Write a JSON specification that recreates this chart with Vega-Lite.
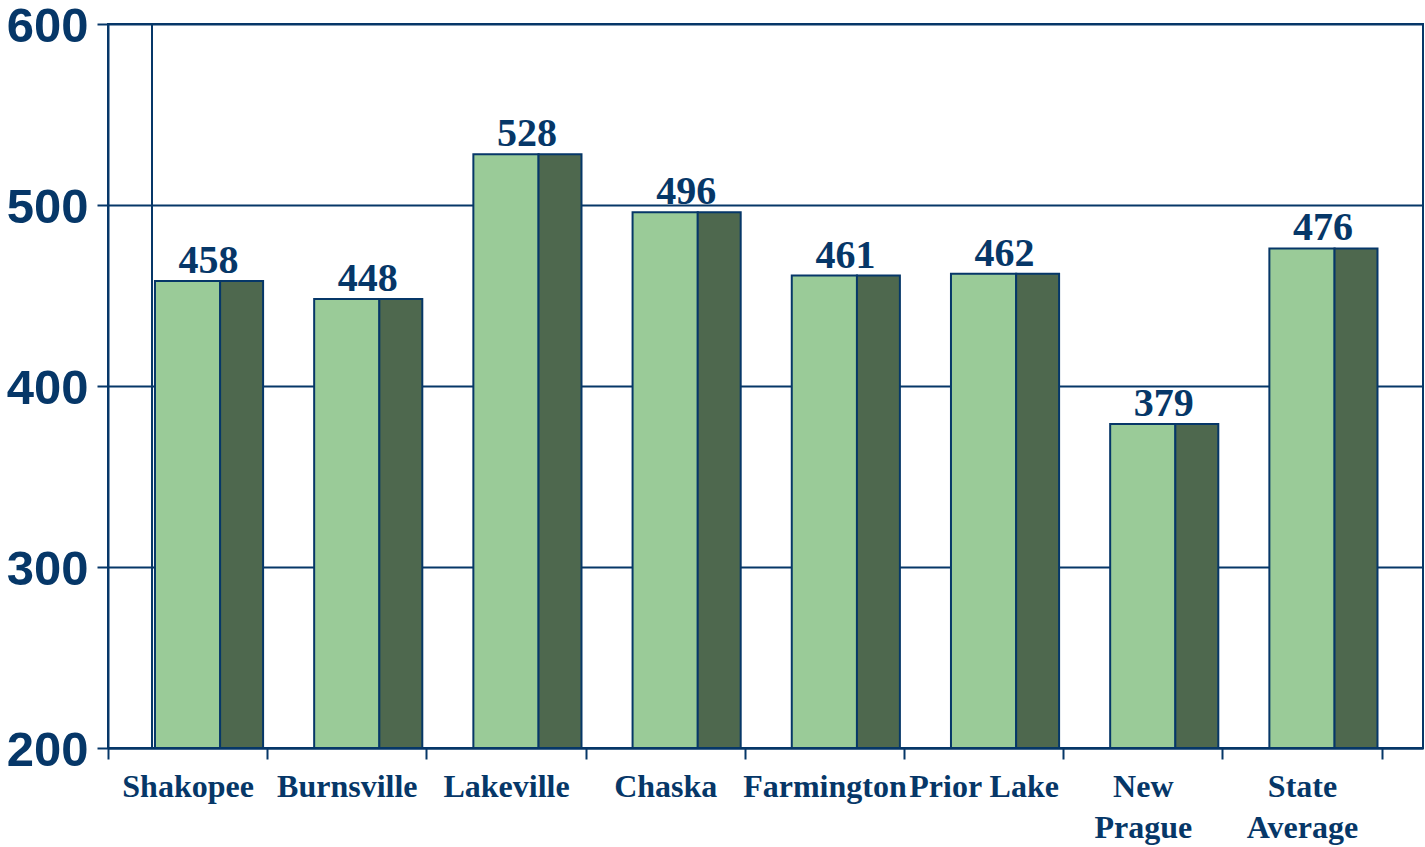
{
  "$schema": "https://vega.github.io/schema/vega-lite/v6.json",
  "width": 1315,
  "height": 724,
  "autosize": {"type": "none"},
  "padding": {"left": 108, "top": 24, "right": 2, "bottom": 99},
  "background": "white",
  "config": {
    "view": {"stroke": "#063768", "strokeWidth": 2},
    "axis": {"domainColor": "#063768", "domainWidth": 2, "tickColor": "#063768", "tickWidth": 2, "tickSize": 11, "labelColor": "#063768", "titleColor": "#063768"}
  },
  "data": {
    "values": [
      {"city": "Shakopee", "value": 458},
      {"city": "Burnsville", "value": 448},
      {"city": "Lakeville", "value": 528},
      {"city": "Chaska", "value": 496},
      {"city": "Farmington", "value": 461},
      {"city": "Prior Lake", "value": 462},
      {"city": "New Prague", "value": 379},
      {"city": "State Average", "value": 476}
    ]
  },
  "encoding": {
    "x": {
      "field": "city", "type": "nominal", "sort": null, "title": null,
      "scale": {"type": "band", "paddingInner": 0, "paddingOuter": 0.13, "align": 0},
      "axis": {
        "labelAngle": 0, "tickBand": "extent", "grid": false,
        "labelFont": "Liberation Serif", "labelFontWeight": "bold", "labelFontSize": 32,
        "labelPadding": 12, "labelOverlap": false, "labelBound": false, "labelLimit": 0,
        "labelLineHeight": 41,
        "labelExpr": "datum.label == 'Prior Lake' ? datum.label : split(datum.label, ' ')"
      }
    },
    "y": {
      "field": "value", "type": "quantitative", "title": null,
      "scale": {"domain": [200, 600], "zero": false, "nice": false},
      "axis": {
        "values": [200, 300, 400, 500, 600], "grid": true, "gridColor": "#063768", "gridWidth": 2, "gridOpacity": 1,
        "labelFont": "Liberation Sans", "labelFontWeight": "bold", "labelFontSize": 49, "labelPadding": 9, "labelOffset": 2
      }
    }
  },
  "layer": [
    {
      "mark": {"type": "rule", "color": "#063768", "strokeWidth": 2, "xOffset": -35.6},
      "encoding": {"x": {"datum": "Shakopee"}, "y": null}
    },
    {
      "mark": {"type": "bar", "width": {"band": 0.41}, "fill": "#9ACB98", "stroke": "#063768", "strokeWidth": 2},
      "encoding": {"y2": {"datum": 200}}
    },
    {
      "mark": {"type": "bar", "width": {"band": 0.27}, "xOffset": 54, "fill": "#4E684E", "stroke": "#063768", "strokeWidth": 2},
      "encoding": {"y2": {"datum": 200}}
    },
    {
      "mark": {"type": "text", "font": "Liberation Serif", "fontWeight": "bold", "fontSize": 40, "color": "#063768", "baseline": "alphabetic", "dy": -8, "xOffset": 21},
      "encoding": {"text": {"field": "value", "type": "quantitative"}}
    }
  ]
}
